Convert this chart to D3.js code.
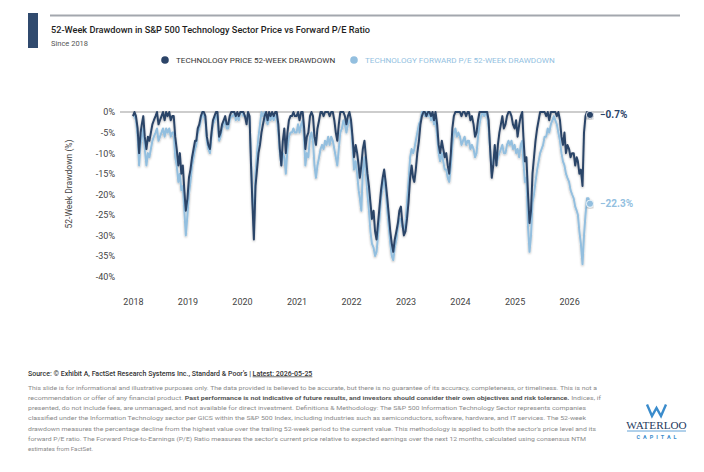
<!DOCTYPE html>
<html>
<head>
<meta charset="utf-8">
<script src="https://cdn.jsdelivr.net/npm/d3@7"></script>
<style>
  body { margin: 0; background: #fff; }
  svg { display: block; font-family: Roboto, "Noto Sans", sans-serif; }
</style>
</head>
<body>
<svg id="chart" width="704" height="472"></svg>
<script>
// 52-week drawdown at the 1st, 11th and 21st of each month
const price2018 = [-1, 0, -1, -4, -10, -5,  -3, -1, -6, -9, -6, -7,  -5, -3, -2, -1, 0, -3,
                   -2, -1, 0, -2, 0, -1,  0, -2, -1, -1, -6, -9,  -13, -10, -15, -13, -19, -24];
const pe2018    = [-1, -1, -2, -6, -13, -8,  -6, -4, -9, -13, -10, -11,  -9, -7, -6, -5, -4, -7,
                   -6, -5, -4, -6, -4, -5,  -4, -6, -5, -5, -11, -13,  -17, -15, -19, -18, -24, -30];
const price2019 = [-21, -16, -14, -11, -9, -7,  -7, -4, -3, -1, 0, 0,  -1, -6, -8, -9, -5, -2,
                   -1, 0, 0, -6, -5, -3,  -2, -1, -3, -3, -1, 0,  0, 0, -1, 0, -1, 0];
const pe2019    = [-25, -20, -17, -13, -11, -9,  -8, -5, -4, -2, 0, -1,  -2, -7, -9, -10, -6, -3,
                   -2, -1, -1, -7, -6, -4,  -3, -2, -4, -4, -2, -1,  -1, 0, -2, -1, -2, 0];
const price2020 = [0, 0, -1, -3, 0, -1,  -12, -22, -31, -18, -14, -10,  -8, -5, -3, -1, 0, -2,
                   0, -1, 0, -1, 0, 0,  -3, -9, -13, -7, -4, -10,  -5, -2, -1, -1, 0, -1];
const pe2020    = [0, -1, -1, -2, 0, -2,  -10, -20, -28, -15, -10, -6,  -3, 0, -1, 0, -2, -3,
                   -1, -2, -1, -2, -1, -1,  -5, -10, -13, -10, -11, -15,  -9, -6, -5, -5, -4, -5];
const price2021 = [-1, 0, -2, 0, 0, -4,  -9, -6, -5, -1, 0, -1,  -6, -8, -4, -2, 0, 0,
                   -1, 0, 0, 0, -1, 0,  0, -2, -5, -7, -3, 0,  0, 0, -1, -3, -1, 0];
const pe2021    = [-5, -3, -5, -3, -2, -7,  -13, -10, -11, -6, -5, -7,  -13, -16, -13, -11, -9, -8,
                   -9, -7, -8, -6, -8, -6,  -7, -9, -11, -13, -9, -5,  -4, -2, -3, -5, -3, -2];
const price2022 = [-2, -6, -11, -8, -10, -13,  -16, -13, -9, -7, -11, -15,  -18, -22, -26, -24, -29, -31,
                   -27, -23, -19, -16, -14, -17,  -21, -25, -29, -32, -34, -31,  -29, -27, -24, -23, -27, -30];
const pe2022    = [-3, -8, -14, -12, -15, -19,  -21, -24, -14, -11, -15, -20,  -24, -29, -32, -33, -35, -34,
                   -30, -26, -21, -18, -16, -19,  -24, -28, -32, -35, -36, -33,  -31, -28, -26, -26, -28, -29];
const price2023 = [-29, -26, -22, -16, -13, -16,  -17, -14, -10, -7, -3, -1,  0, 0, -1, 0, 0, -1,
                   0, -2, 0, -3, -8, -10,  -7, -9, -11, -10, -13, -15,  -10, -4, -1, 0, 0, 0];
const pe2023    = [-27, -22, -17, -11, -9, -10,  -9, -7, -5, -3, -2, 0,  0, -1, 0, -1, 0, -2,
                   -1, -3, -2, -6, -10, -12,  -10, -12, -14, -14, -16, -17,  -13, -8, -5, -4, -6, -5];
const price2024 = [0, -1, 0, 0, -1, 0,  0, -2, -1, -3, -6, -5,  -2, 0, 0, 0, 0, 0,
                   0, -2, -9, -16, -13, -8,  -13, -8, -5, -3, -1, -4,  -3, -1, 0, 0, -1, -3];
const pe2024    = [-6, -8, -7, -6, -8, -7,  -7, -9, -8, -9, -11, -10,  -6, -3, -1, 0, -1, 0,
                   -1, -4, -9, -15, -12, -10,  -13, -11, -10, -9, -8, -10,  -10, -8, -7, -8, -7, -9];
const price2025 = [-4, -2, -6, -3, -1, 0,  -6, -12, -11, -20, -27, -24,  -15, -11, -7, -4, -2, 0,
                   0, 0, 0, -1, 0, -2,  0, 0, 0, 0, -1, 0,  -2, -6, -8, -5, -10, -8];
const pe2025    = [-8, -10, -9, -11, -8, -7,  -12, -17, -16, -28, -34, -30,  -22, -20, -17, -14, -12, -10,
                   -9, -8, -6, -6, -4, -5,  -3, -2, -1, -2, -3, -5,  -7, -10, -12, -13, -15, -16];
const price2026 = [-9, -11, -10, -10, -13, -11,  -12, -15, -14, -18, -5, -1,  0, -1, -0.7];
const pe2026    = [-17, -19, -20, -21, -23, -24,  -25, -29, -32, -37, -30, -25,  -21, -21, -22.3];

const priceDD = [].concat(price2018, price2019, price2020, price2021, price2022,
                          price2023, price2024, price2025, price2026);
const peDD = [].concat(pe2018, pe2019, pe2020, pe2021, pe2022,
                       pe2023, pe2024, pe2025, pe2026);

const sampleDays = [1, 11, 21];
const dates = [];
for (let yr = 2018; yr <= 2026; yr++) {
  for (let m = 0; m < 12; m++) {
    if (yr === 2026 && m > 4) break;
    sampleDays.forEach(d => dates.push(new Date(yr, m, d)));
  }
}

const yTicks = [0, -5, -10, -15, -20, -25, -30, -35, -40];
const yearTicks = [2018, 2019, 2020, 2021, 2022, 2023, 2024, 2025, 2026];

const legendNames = ["TECHNOLOGY PRICE 52-WEEK DRAWDOWN", "TECHNOLOGY FORWARD P/E 52-WEEK DRAWDOWN"];

const disclaimer = [
  "This slide is for informational and illustrative purposes only. The data provided is believed to be accurate, but there is no guarantee of its accuracy, completeness, or timeliness. This is not a",
  null, // line with bold part, built below
  "presented, do not include fees, are unmanaged, and not available for direct investment. Definitions & Methodology: The S&P 500 Information Technology Sector represents companies",
  "classified under the Information Technology sector per GICS within the S&P 500 Index, including industries such as semiconductors, software, hardware, and IT services. The 52-week",
  "drawdown measures the percentage decline from the highest value over the trailing 52-week period to the current value. This methodology is applied to both the sector's price level and its",
  "forward P/E ratio. The Forward Price-to-Earnings (P/E) Ratio measures the sector's current price relative to expected earnings over the next 12 months, calculated using consensus NTM",
  "estimates from FactSet."
];
const disclaimerWidths = [569, 573, 558, 558, 568, 558, null];

const darkBlue = "#2c4468";
const lightBlue = "#93bfdf";

const svg = d3.select("#chart");

// drop shadow under the lines
svg.append("defs").append("filter")
    .attr("id", "shadow")
    .attr("x", "-5%").attr("y", "-10%").attr("width", "110%").attr("height", "130%")
  .append("feDropShadow")
    .attr("dx", 0).attr("dy", 1)
    .attr("stdDeviation", 1.2)
    .attr("flood-color", "#000")
    .attr("flood-opacity", 0.3);

// Header
svg.append("rect")
    .attr("x", 28).attr("y", 13).attr("width", 10).attr("height", 35)
    .attr("fill", "#304a6e");
svg.append("line")
    .attr("x1", 50).attr("x2", 680).attr("y1", 15.5).attr("y2", 15.5)
    .attr("stroke", "#a3a7ae").attr("stroke-width", 2);
svg.append("text")
    .attr("x", 51).attr("y", 32.5)
    .style("font-size", "9.2px").style("font-weight", 500).style("fill", "#1e1e1e")
    .text("52-Week Drawdown in S&P 500 Technology Sector Price vs Forward P/E Ratio");
svg.append("text")
    .attr("x", 51).attr("y", 46)
    .style("font-size", "7.5px").style("fill", "#555")
    .text("Since 2018");

// Legend
const legend = svg.append("g").attr("class", "legend");
[[165, darkBlue, "#333"], [354, lightBlue, lightBlue]].forEach((l, i) => {
  legend.append("circle")
      .attr("cx", l[0]).attr("cy", 60).attr("r", 3.8)
      .attr("fill", l[1]);
  legend.append("text")
      .attr("x", l[0] + 11).attr("y", 63)
      .style("font-size", "8.1px").style("fill", l[2])
      .text(legendNames[i]);
});

// Scales
const x = d3.scaleTime()
    .domain([new Date(2017, 9, 6), new Date(2026, 7, 23)])
    .range([120, 604]);
const y = d3.scaleLinear()
    .domain([0, -40])
    .range([112, 276.5]);

const plot = svg.append("g").attr("class", "plot");

// zero line
plot.append("line")
    .attr("x1", x.range()[0]).attr("x2", x.range()[1])
    .attr("y1", y(0)).attr("y2", y(0))
    .attr("stroke", "#9b9b9b").attr("stroke-width", 1.2);

// Axes
plot.append("g")
    .attr("transform", "translate(115,0)")
    .call(d3.axisLeft(y).tickValues(yTicks).tickFormat(d => d + "%").tickSize(0).tickPadding(0))
    .call(g => g.select(".domain").remove())
    .selectAll("text")
      .style("font-family", "Roboto, sans-serif")
      .style("font-size", "9px")
      .style("fill", "#444");

plot.append("g")
    .attr("transform", "translate(0,296)")
    .call(d3.axisBottom(x)
      .tickValues(yearTicks.map(yr => new Date(yr, 0, 1)))
      .tickFormat(d3.timeFormat("%Y"))
      .tickSize(0).tickPadding(3))
    .call(g => g.select(".domain").remove())
    .selectAll("text")
      .style("font-family", "Roboto, sans-serif")
      .style("font-size", "9px")
      .style("fill", "#444");

svg.append("text")
    .attr("transform", "translate(72,184)rotate(-90)")
    .attr("text-anchor", "middle")
    .style("font-size", "8.5px").style("fill", "#444")
    .text("52-Week Drawdown (%)");

// Lines
const line = d3.line()
    .x((d, i) => x(dates[i]))
    .y(d => y(d));

const series = [
  { values: peDD, color: lightBlue },
  { values: priceDD, color: darkBlue }
];

plot.append("g")
    .attr("filter", "url(#shadow)")
  .selectAll("path")
  .data(series)
  .join("path")
    .attr("fill", "none")
    .attr("stroke", d => d.color)
    .attr("stroke-width", 2)
    .attr("stroke-linejoin", "round")
    .attr("d", d => line(d.values));

// End markers and labels
const lastDate = dates[dates.length - 1];
series.forEach(s => {
  const v = s.values[s.values.length - 1];
  plot.append("circle")
      .attr("cx", x(lastDate)).attr("cy", y(v)).attr("r", 3.6)
      .attr("fill", s.color)
      .attr("stroke", "#fff").attr("stroke-width", 0.8)
      .attr("filter", "url(#shadow)");
  plot.append("text")
      .attr("x", x(lastDate) + 10).attr("y", y(v) + 3.5)
      .style("font-size", "10px").style("font-weight", 700)
      .style("fill", s.color)
      .text(d3.format(".1f")(v) + "%");
});

// Footer
const source = svg.append("text")
    .attr("x", 28).attr("y", 375.5)
    .style("font-size", "7px").style("font-weight", 500).style("fill", "#333");
source.append("tspan")
    .text("Source: \u00a9 Exhibit A, FactSet Research Systems Inc., Standard & Poor's | ");
source.append("tspan")
    .style("text-decoration", "underline")
    .text("Latest: 2026-05-25");

const foot = svg.append("g")
    .style("font-size", "6.1px").style("fill", "#8a8a8a");
disclaimer.forEach((t, i) => {
  const txt = foot.append("text")
      .attr("x", 28).attr("y", 389.5 + i * 10.3);
  if (disclaimerWidths[i]) {
    txt.attr("textLength", disclaimerWidths[i]).attr("lengthAdjust", "spacingAndGlyphs");
  }
  if (t) {
    txt.text(t);
  } else {
    txt.append("tspan").text("recommendation or offer of any financial product. ");
    txt.append("tspan").style("font-weight", 700).style("fill", "#555")
        .text("Past performance is not indicative of future results, and investors should consider their own objectives and risk tolerance.");
    txt.append("tspan").text(" Indices, if");
  }
});

// Logo
const logo = svg.append("g").attr("class", "logo");
logo.append("path")
    .attr("d", "M647,404.5 L652,416 L656.5,408 L661,416 L666,404.5")
    .attr("fill", "none")
    .attr("stroke", "#3b8ccc").attr("stroke-width", 2.4)
    .attr("stroke-linejoin", "miter");
logo.append("text")
    .attr("x", 656.5).attr("y", 428.5).attr("text-anchor", "middle")
    .style("font-family", "'Liberation Serif', 'DejaVu Serif', serif")
    .style("font-size", "11.2px").style("fill", "#23395d")
    .text("WATERLOO");
logo.append("line")
    .attr("x1", 627).attr("x2", 686).attr("y1", 431).attr("y2", 431)
    .attr("stroke", "#3b8ccc").attr("stroke-width", 0.8);
logo.append("text")
    .attr("x", 658).attr("y", 439).attr("text-anchor", "middle")
    .style("font-size", "5.5px").style("font-weight", 700)
    .style("letter-spacing", "3px").style("fill", "#3b8ccc")
    .text("CAPITAL");
</script>
</body>
</html>
